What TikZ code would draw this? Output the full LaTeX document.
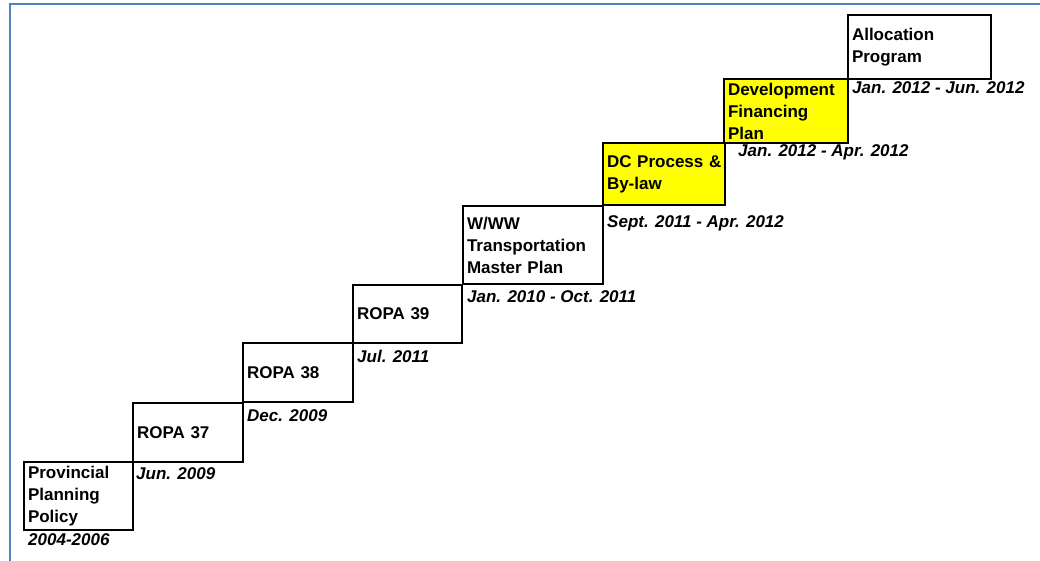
\documentclass[tikz,border=0pt]{standalone}
\usepackage{fontspec}
\setmainfont{Liberation Sans}
\definecolor{frameblue}{RGB}{79,129,189}
\definecolor{hlyellow}{RGB}{255,255,0}
\tikzset{
  stepbox/.style={draw=black, line width=2pt, anchor=north west, inner xsep=4pt, inner ysep=0pt,
    align=left, outer sep=0pt, font=\bfseries\fontsize{17}{22}\selectfont},
  hlbox/.style={stepbox, fill=hlyellow},
  datelbl/.style={anchor=base west, inner sep=0pt, font=\bfseries\itshape\fontsize{17}{22}\selectfont},
  frameline/.style={draw=frameblue, line width=2.5pt},
}
\begin{document}
\begin{tikzpicture}[x=1pt, y=-1pt]
\useasboundingbox (0,0) rectangle (1040,561);
% frame
\coordinate (fbl) at (10,561);
\coordinate (ftl) at (10,4);
\coordinate (ftr) at (1040,4);
\draw[frameline] (fbl) -- (ftl) -- (ftr);
% steps
\node[stepbox, text width=101pt, minimum height=68pt] (b1) at (24,462) {Provincial\\Planning\\Policy};
\node[stepbox, text width=102pt, minimum height=59pt] (b2) at (133,403) {ROPA 37};
\node[stepbox, text width=102pt, minimum height=59pt] (b3) at (243,343) {ROPA 38};
\node[stepbox, text width=101pt, minimum height=58pt] (b4) at (353,285) {ROPA 39};
\node[stepbox, text width=132pt, minimum height=78pt] (b5) at (463,206) {W/WW\\Transportation\\Master Plan};
\node[hlbox, text width=114pt, minimum height=62pt] (b6) at (603,143) {\mbox{DC Process \&}\\By-law};
\node[hlbox, text width=116pt, minimum height=64pt] (b7) at (724,79) {Development\\Financing\\Plan};
\node[stepbox, text width=135pt, minimum height=64pt] (b8) at (848,15) {Allocation\\Program};
% dates
\node[datelbl] (d1) at (28,545) {2004-2006};
\node[datelbl] (d2) at (136,479) {Jun. 2009};
\node[datelbl] (d3) at (247,421) {Dec. 2009};
\node[datelbl] (d4) at (357,362) {Jul. 2011};
\node[datelbl] (d5) at (467,302) {Jan. 2010 - Oct. 2011};
\node[datelbl] (d6) at (607,227) {Sept. 2011 - Apr. 2012};
\node[datelbl] (d7) at (738,157) {Jan. 2012 - Apr. 2012};
\node[datelbl] (d8) at (852,94) {Jan. 2012 - Jun. 2012};
\end{tikzpicture}
\end{document}
